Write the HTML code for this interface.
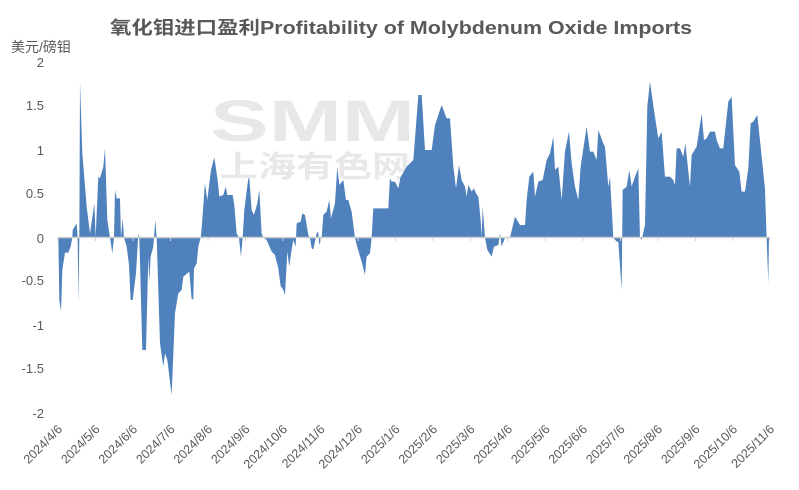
<!DOCTYPE html>
<html><head><meta charset="utf-8"><style>
body{margin:0;background:#fff;}
svg{display:block;font-family:"Liberation Sans","Noto Sans CJK SC",sans-serif;}
</style></head><body>
<svg width="799" height="490" viewBox="0 0 799 490" xmlns="http://www.w3.org/2000/svg">
<rect width="799" height="490" fill="#fff"/>
<text x="110" y="34" font-size="18" font-weight="bold" fill="#595959" textLength="582" lengthAdjust="spacingAndGlyphs">氧化钼进口盈利Profitability of Molybdenum Oxide Imports</text>
<text x="11" y="52" font-size="14" fill="#595959">美元/磅钼</text>
<g font-size="13" fill="#595959" text-anchor="end">
<text x="44" y="67">2</text><text x="44" y="110">1.5</text><text x="44" y="155">1</text><text x="44" y="198">0.5</text><text x="44" y="243">0</text><text x="44" y="285">-0.5</text><text x="44" y="330">-1</text><text x="44" y="373">-1.5</text><text x="44" y="418">-2</text>
</g>
<!-- watermark -->
<text x="210" y="141" font-size="58" font-weight="bold" fill="#e8e8e8" textLength="205" lengthAdjust="spacingAndGlyphs">SMM</text>
<text x="220" y="177" font-size="30" font-weight="bold" fill="#e8e8e8" textLength="190" lengthAdjust="spacingAndGlyphs">上海有色网</text>
<g fill="#4f81bd">
<polygon transform="translate(50,60) scale(0.3333)" points="25,533 28,720 33,755 37,630 45,578 55,578 62,560 67,533 68,510 80,490 83,533 85,730 88,533 90,65 97,280 110,440 120,520 133,430 137,530 145,350 150,355 160,320 165,265 172,480 180,533 187,580 192,533 195,390 200,415 210,415 213,533 218,475 222,533 230,560 237,615 242,720 248,720 258,640 265,520 268,533 277,870 288,870 295,590 298,665 302,590 310,560 316,480 320,533 330,850 340,920 345,880 352,900 365,1005 375,760 385,700 395,690 400,650 418,635 425,718 430,718 432,625 440,610 445,560 452,533 455,505 465,370 472,420 483,330 493,292 503,360 508,410 520,405 527,380 532,405 548,405 553,435 560,520 567,533 573,590 578,533 583,450 595,355 598,355 605,450 612,465 622,430 628,390 635,520 640,533 650,540 665,575 675,585 685,625 692,678 700,690 705,705 712,575 718,620 724,575 730,540 737,560 740,490 752,485 757,460 765,465 775,525 780,533 785,565 790,568 800,520 805,515 808,555 815,533 820,465 830,455 838,420 843,475 855,430 862,320 868,375 880,360 888,420 895,420 905,455 915,533 920,555 935,605 945,645 950,590 960,580 965,533 970,445 1015,445 1020,355 1025,365 1035,365 1045,385 1051,355 1051,533"/>
<polygon transform="translate(400,60) scale(0.3333)" points="0,533 0,355 20,320 40,300 55,105 65,105 75,270 95,270 105,195 125,135 140,175 150,175 160,320 168,385 177,315 185,360 195,380 200,410 205,375 215,395 222,385 228,400 235,410 242,480 245,533 248,440 255,533 262,570 275,590 282,560 295,555 300,520 305,560 315,533 330,533 345,470 360,495 375,495 380,420 388,350 400,335 405,410 415,365 428,360 440,300 450,280 460,230 465,330 475,320 485,420 495,275 507,215 515,310 525,380 535,420 542,320 560,200 570,275 580,275 590,300 595,210 610,250 615,260 625,380 630,350 640,533 650,545 655,545 665,690 668,390 680,380 688,330 695,380 705,350 715,325 720,533 725,540 735,495 742,140 750,65 762,150 775,235 785,215 795,350 810,350 820,360 825,375 830,265 840,265 850,290 856,250 870,380 875,285 890,260 900,195 905,160 912,240 920,235 930,215 945,215 950,240 960,265 970,265 985,125 995,110 1005,315 1018,335 1025,395 1035,395 1045,325 1052,190 1060,185 1072,165 1082,260 1095,385 1100,533 1105,670 1107,533"/>
</g>
<line x1="58" y1="237.5" x2="770" y2="237.5" stroke="#d0d0d0" stroke-width="1.5"/>
<g stroke="#d0d0d0" stroke-width="1">
<line x1="58" y1="237" x2="58" y2="241"/><line x1="95.5" y1="237" x2="95.5" y2="241"/><line x1="133" y1="237" x2="133" y2="241"/><line x1="170.5" y1="237" x2="170.5" y2="241"/><line x1="208" y1="237" x2="208" y2="241"/><line x1="245.5" y1="237" x2="245.5" y2="241"/><line x1="283" y1="237" x2="283" y2="241"/><line x1="320.5" y1="237" x2="320.5" y2="241"/><line x1="358" y1="237" x2="358" y2="241"/><line x1="395.5" y1="237" x2="395.5" y2="241"/><line x1="433" y1="237" x2="433" y2="241"/><line x1="470.5" y1="237" x2="470.5" y2="241"/><line x1="508" y1="237" x2="508" y2="241"/><line x1="545.5" y1="237" x2="545.5" y2="241"/><line x1="583" y1="237" x2="583" y2="241"/><line x1="620.5" y1="237" x2="620.5" y2="241"/><line x1="658" y1="237" x2="658" y2="241"/><line x1="695.5" y1="237" x2="695.5" y2="241"/><line x1="733" y1="237" x2="733" y2="241"/><line x1="770" y1="237" x2="770" y2="241"/>
</g>
<g font-size="12.5" fill="#595959" text-anchor="end">
<text transform="translate(63,430) rotate(-45)">2024/4/6</text>
<text transform="translate(100.5,430) rotate(-45)">2024/5/6</text>
<text transform="translate(138,430) rotate(-45)">2024/6/6</text>
<text transform="translate(175.5,430) rotate(-45)">2024/7/6</text>
<text transform="translate(213,430) rotate(-45)">2024/8/6</text>
<text transform="translate(250.5,430) rotate(-45)">2024/9/6</text>
<text transform="translate(288,430) rotate(-45)">2024/10/6</text>
<text transform="translate(325.5,430) rotate(-45)">2024/11/6</text>
<text transform="translate(363,430) rotate(-45)">2024/12/6</text>
<text transform="translate(400.5,430) rotate(-45)">2025/1/6</text>
<text transform="translate(438,430) rotate(-45)">2025/2/6</text>
<text transform="translate(475.5,430) rotate(-45)">2025/3/6</text>
<text transform="translate(513,430) rotate(-45)">2025/4/6</text>
<text transform="translate(550.5,430) rotate(-45)">2025/5/6</text>
<text transform="translate(588,430) rotate(-45)">2025/6/6</text>
<text transform="translate(625.5,430) rotate(-45)">2025/7/6</text>
<text transform="translate(663,430) rotate(-45)">2025/8/6</text>
<text transform="translate(700.5,430) rotate(-45)">2025/9/6</text>
<text transform="translate(738,430) rotate(-45)">2025/10/6</text>
<text transform="translate(775,430) rotate(-45)">2025/11/6</text>
</g>
</svg>
</body></html>
